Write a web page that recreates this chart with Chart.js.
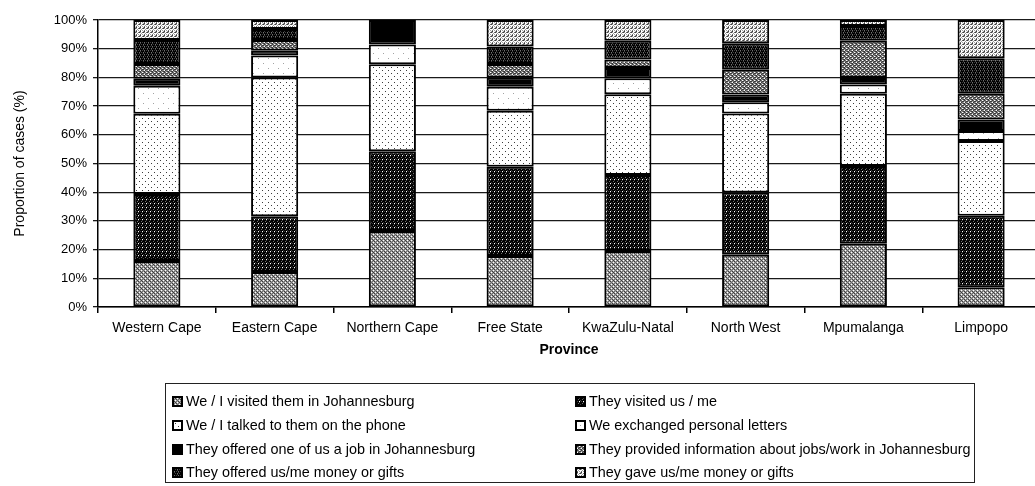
<!DOCTYPE html>
<html>
<head>
<meta charset="utf-8">
<script src="https://cdn.jsdelivr.net/npm/chart.js@4.4.1/dist/chart.umd.min.js"></script>
<style>
  body { margin: 0; background: #fff; overflow: hidden; }
  #wrap { position: absolute; left: 0; top: 0; width: 1045px; height: 486px; }
  #legend {
    position: absolute; left: 165px; top: 383px; width: 810px; height: 100px;
    border: 1px solid #222; box-sizing: border-box;
    font-family: "Liberation Sans", Arial, sans-serif; font-size: 14.4px; color: #000;
  }
  .item { position: absolute; white-space: nowrap; line-height: 16px; }
  .sw { display: inline-block; width: 7px; height: 7px; border: 2px solid #000; margin-right: 3px; vertical-align: -1px; }
</style>
</head>
<body>
<div id="wrap">
  <canvas id="c" width="1045" height="486"></canvas>
  <div id="legend"></div>
</div>
<script>
const provinces = ['Western Cape', 'Eastern Cape', 'Northern Cape', 'Free State',
  'KwaZulu-Natal', 'North West', 'Mpumalanga', 'Limpopo']

// percentages, bottom segment first
const visitedThem  = [16.0, 12.2, 26.5, 17.8, 19.5, 18.2, 22.0, 6.9]
const theyVisited  = [23.4, 19.4, 27.8, 31.1, 26.5, 21.7, 27.1, 24.9]
const phone        = [27.9, 48.4, 30.3, 19.5, 28.1, 27.5, 25.2, 26.0]
const letters      = [9.8, 7.6, 6.9, 8.3, 5.6, 3.9, 3.2, 3.5]
const jobOffer     = [2.4, 1.7, 8.5, 3.2, 3.6, 2.7, 2.3, 4.0]
const jobInfo      = [5.2, 3.7, 0, 4.8, 2.9, 8.7, 13.0, 9.0]
const offeredMoney = [8.3, 3.9, 0, 6.1, 6.6, 9.2, 5.1, 12.4]
const gaveMoney    = [7.0, 3.1, 0, 9.2, 7.2, 8.1, 2.1, 13.3]

const yTicks = [0, 10, 20, 30, 40, 50, 60, 70, 80, 90, 100]

const FONT = '"Liberation Sans", Arial, sans-serif'
const INK = '#000'

// little tiles to fake the scanned stipple fills
const SHADES = { k: '#000', d: '#3c3c3c', m: '#6e6e6e', g: '#a2a2a2', '.': '#fff' }
const TILES = {
  visitedThem:  ['gdg.', 'mgdg', 'g.gm', 'dgmg'],
  theyVisited:  ['kkdk', 'kmkk', 'kkkd', 'dk.k'],
  phone:        ['......', '.d....', '......', '......', '....d.', '......'],
  letters:      ['..........', '..........', '..........', '...g......', '..........',
                 '..........', '..........', '..........', '........g.', '..........'],
  jobOffer:     ['k'],
  jobInfo:      ['dm.g', 'gmdd', '.dmg', 'dgmd'],
  offeredMoney: ['kdkm', 'kkkd', 'mkdk', 'dkkk'],
  gaveMoney:    ['g.md', '.g..', 'm.g.', 'd..g']
}

function makeTile(rows) {
  const t = document.createElement('canvas')
  t.width = rows[0].length
  t.height = rows.length
  const tc = t.getContext('2d')
  rows.forEach((row, y) => {
    for (let x = 0; x < row.length; x++) {
      tc.fillStyle = SHADES[row[x]]
      tc.fillRect(x, y, 1, 1)
    }
  })
  return t
}

const ctx = document.getElementById('c').getContext('2d')

const series = [
  { key: 'visitedThem',  label: 'We / I visited them in Johannesburg', data: visitedThem },
  { key: 'theyVisited',  label: 'They visited us / me', data: theyVisited },
  { key: 'phone',        label: 'We / I talked to them on the phone', data: phone },
  { key: 'letters',      label: 'We exchanged personal letters', data: letters },
  { key: 'jobOffer',     label: 'They offered one of us a job in Johannesburg', data: jobOffer },
  { key: 'jobInfo',      label: 'They provided information about jobs/work in Johannesburg', data: jobInfo },
  { key: 'offeredMoney', label: 'They offered us/me money or gifts', data: offeredMoney },
  { key: 'gaveMoney',    label: 'They gave us/me money or gifts', data: gaveMoney }
]

const datasets = series.map(s => {
  const tile = makeTile(TILES[s.key])
  s.tile = tile
  return {
    label: s.label,
    data: s.data,
    backgroundColor: ctx.createPattern(tile, 'repeat'),
    borderColor: '#000',
    borderWidth: 2,
    borderSkipped: false,
    barPercentage: 0.4,
    categoryPercentage: 1
  }
})

Chart.register({
  id: 'whiteBg',
  beforeDraw(chart) {
    const c = chart.ctx
    c.save()
    c.fillStyle = '#fff'
    c.fillRect(0, 0, chart.width, chart.height)
    c.restore()
  }
})

new Chart(ctx, {
  type: 'bar',
  data: { labels: provinces, datasets: datasets },
  options: {
    responsive: false,
    animation: false,
    devicePixelRatio: 1,
    layout: { padding: { top: 20, right: 5, left: 0, bottom: 0 } },
    plugins: { legend: { display: false }, tooltip: { enabled: false } },
    scales: {
      x: {
        stacked: true,
        grid: { drawOnChartArea: false, drawTicks: true, tickLength: 6, color: INK, lineWidth: 1.5, offset: true },
        border: { color: INK, width: 1.5 },
        ticks: { color: INK, font: { family: FONT, size: 14 }, padding: 7, maxRotation: 0, autoSkip: false },
        title: {
          display: true, text: 'Province', color: INK,
          font: { family: FONT, size: 14, weight: 'bold' },
          padding: { top: 0, bottom: 127 }
        },
        afterFit: s => { s.height = 179 }
      },
      y: {
        stacked: true,
        min: 0,
        max: 100,
        afterBuildTicks: s => { s.ticks = yTicks.map(v => ({ value: v })) },
        ticks: { color: INK, font: { family: FONT, size: 13 }, padding: 6, callback: v => v + '%' },
        grid: { color: '#1a1a1a', lineWidth: 1.3, tickLength: 5 },
        border: { color: INK, width: 1.5 },
        title: {
          display: true, text: 'Proportion of cases (%)', color: INK,
          font: { family: FONT, size: 14 },
          padding: { top: 12, bottom: 0 }
        },
        afterFit: s => { s.width = 98 }
      }
    }
  }
})

// legend: two columns, Excel style (row-wise order)
const legend = document.getElementById('legend')
const rowY = [9, 33, 57, 80]
series.forEach((s, i) => {
  const col = i % 2
  const row = Math.floor(i / 2)
  const el = document.createElement('div')
  el.className = 'item'
  el.style.left = (col === 0 ? 6 : 409) + 'px'
  el.style.top = rowY[row] + 'px'
  const sw = document.createElement('span')
  sw.className = 'sw'
  sw.style.backgroundImage = 'url(' + s.tile.toDataURL() + ')'
  el.appendChild(sw)
  el.appendChild(document.createTextNode(s.label))
  legend.appendChild(el)
})
</script>
</body>
</html>
